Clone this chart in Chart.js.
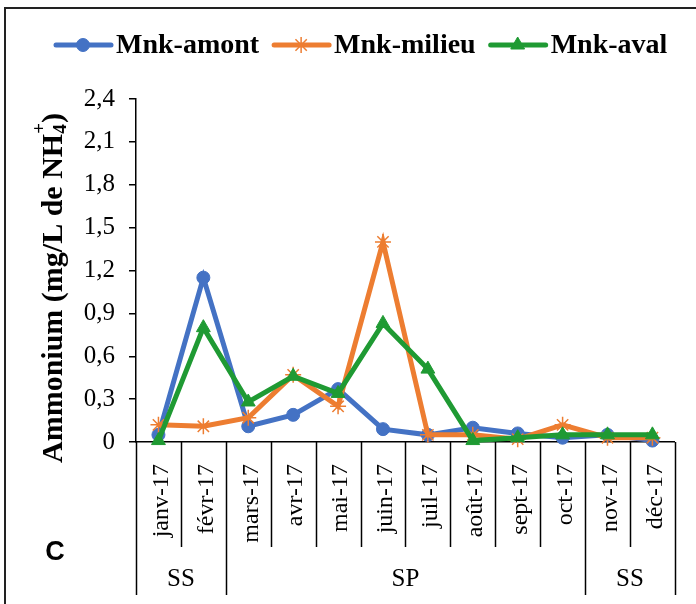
<!DOCTYPE html>
<html>
<head>
<meta charset="utf-8">
<script src="https://cdn.jsdelivr.net/npm/chart.js@4/dist/chart.umd.min.js"></script>
<style>
  html, body { margin: 0; padding: 0; background: #fff; }
  #wrap { width: 696px; height: 604px; position: relative; }
  canvas { display: block; }
</style>
</head>
<body>
<div id="wrap"><canvas id="c" width="696" height="604"></canvas></div>
<script>
// Monthly ammonium concentrations (mg/L NH4+) at three stations, 2017
const months = ['janv-17', 'févr-17', 'mars-17', 'avr-17', 'mai-17', 'juin-17',
                'juil-17', 'août-17', 'sept-17', 'oct-17', 'nov-17', 'déc-17'];
const mnkAmont  = [0.05, 1.15, 0.11, 0.19, 0.37, 0.09, 0.05, 0.10, 0.06, 0.03, 0.05, 0.01];
const mnkMilieu = [0.12, 0.11, 0.17, 0.47, 0.25, 1.40, 0.05, 0.05, 0.02, 0.12, 0.03, 0.03];
const mnkAval   = [0.01, 0.80, 0.28, 0.46, 0.34, 0.83, 0.51, 0.01, 0.03, 0.05, 0.05, 0.05];
const yTicks = [0, 0.3, 0.6, 0.9, 1.2, 1.5, 1.8, 2.1, 2.4];
// Season groups: [label, first month index, last month index]
const seasons = [['SS', 0, 1], ['SP', 2, 9], ['SS', 10, 11]];
const panelLetter = 'C';

const SERIF = '"Liberation Serif", "Times New Roman", serif';
const BLUE = '#4472C4', ORANGE = '#ED7D31', GREEN = '#1F9A33';

// Outer frame, panel letter, y title, month dividers, season row and legend
const decorations = {
  id: 'decorations',
  afterDraw(chart) {
    const ctx = chart.ctx;
    const x = chart.scales.x;
    const area = chart.chartArea;
    ctx.save();

    // frame
    ctx.strokeStyle = '#222';
    ctx.lineWidth = 2;
    ctx.strokeRect(5, 8, 720, 640);

    // dividers below the axis
    ctx.strokeStyle = '#000';
    ctx.lineWidth = 1.5;
    const groupEdges = new Set();
    seasons.forEach(s => { groupEdges.add(s[1]); groupEdges.add(s[2] + 1); });
    for (let i = 0; i <= months.length; i++) {
      const px = Math.round(x.getPixelForValue(i - 0.5)) + 0.5;
      const bottom = groupEdges.has(i) ? 595 : 547;
      ctx.beginPath();
      ctx.moveTo(px, area.bottom);
      ctx.lineTo(px, bottom);
      ctx.stroke();
    }

    // season labels
    ctx.fillStyle = '#000';
    ctx.font = '25px ' + SERIF;
    ctx.textAlign = 'center';
    ctx.textBaseline = 'middle';
    seasons.forEach(([lab, a, b]) => {
      const cx = (x.getPixelForValue(a - 0.5) + x.getPixelForValue(b + 0.5)) / 2;
      ctx.fillText(lab, cx, 579);
    });

    // panel letter
    ctx.font = 'bold 27px "Liberation Sans", Arial, sans-serif';
    ctx.fillText(panelLetter, 55, 553);

    // y-axis title with subscript / superscript
    const big = 'bold 30px ' + SERIF, small = 'bold 19px ' + SERIF;
    const parts = [
      ['Ammonium (mg/L de NH', big, 0],
      ['4', small, 4],
      ['+', small, -17],
      [')', big, 0]
    ];
    ctx.font = small;
    const overlap = ctx.measureText('4').width;
    let total = -overlap;
    parts.forEach(p => { ctx.font = p[1]; total += ctx.measureText(p[0]).width; });
    ctx.translate(62, 113 + total);
    ctx.rotate(-Math.PI / 2);
    ctx.textAlign = 'left';
    ctx.textBaseline = 'alphabetic';
    let cursor = 0;
    parts.forEach((p, i) => {
      ctx.font = p[1];
      if (i === 2) cursor -= overlap;   // "+" sits above the "4"
      ctx.fillText(p[0], cursor, p[2]);
      cursor += ctx.measureText(p[0]).width;
    });
    ctx.restore();

    // legend: line segment with marker, then bold label
    ctx.save();
    ctx.font = 'bold 28px ' + SERIF;
    ctx.textAlign = 'left';
    ctx.textBaseline = 'middle';
    let lx = 56;
    const ly = 45;
    chart.data.datasets.forEach(ds => {
      ctx.strokeStyle = ds.borderColor;
      ctx.lineWidth = 5;
      ctx.lineCap = 'round';
      ctx.beginPath();
      ctx.moveTo(lx, ly);
      ctx.lineTo(lx + 55, ly);
      ctx.stroke();
      ctx.lineCap = 'butt';
      ctx.fillStyle = ds.pointBackgroundColor;
      ctx.strokeStyle = ds.pointBorderColor;
      ctx.lineWidth = ds.pointBorderWidth;
      Chart.helpers.drawPoint(ctx, {
        pointStyle: ds.pointStyle,
        radius: ds.pointRadius,
        borderWidth: ds.pointBorderWidth,
        rotation: 0
      }, lx + 27, ly);
      ctx.fillStyle = '#000';
      ctx.fillText(ds.label, lx + 60, ly + 1);
      lx += 60 + ctx.measureText(ds.label).width + 15;
    });
    ctx.restore();
  }
};

const chart = new Chart(document.getElementById('c'), {
  type: 'line',
  data: {
    labels: months,
    datasets: [
      {
        label: 'Mnk-amont', data: mnkAmont, order: 3,
        borderColor: BLUE, backgroundColor: BLUE,
        pointBackgroundColor: BLUE, pointBorderColor: BLUE,
        pointStyle: 'circle', pointRadius: 6.5, pointBorderWidth: 1,
        borderWidth: 5, tension: 0, clip: false
      },
      {
        label: 'Mnk-milieu', data: mnkMilieu, order: 2,
        borderColor: ORANGE, backgroundColor: ORANGE,
        pointBackgroundColor: ORANGE, pointBorderColor: ORANGE,
        pointStyle: 'star', pointRadius: 8, pointBorderWidth: 1.5,
        borderWidth: 5, tension: 0, clip: false
      },
      {
        label: 'Mnk-aval', data: mnkAval, order: 1,
        borderColor: GREEN, backgroundColor: GREEN,
        pointBackgroundColor: GREEN, pointBorderColor: GREEN,
        pointStyle: 'triangle', pointRadius: 8, pointBorderWidth: 1,
        borderWidth: 5, tension: 0, clip: false
      }
    ]
  },
  options: {
    responsive: false,
    animation: false,
    events: [],
    layout: { padding: { top: 99, right: 19, left: 0, bottom: 0 } },
    plugins: { legend: { display: false }, tooltip: { enabled: false } },
    scales: {
      x: {
        type: 'category',
        offset: true,
        grid: { display: false },
        border: { display: true, color: '#000', width: 1.5 },
        ticks: {
          autoSkip: false, minRotation: 90, maxRotation: 90,
          padding: 14, labelOffset: 3,
          color: '#000', font: { family: SERIF, size: 24 }
        },
        afterFit(scale) { scale.height = 162; }
      },
      y: {
        min: 0, max: 2.4,
        afterBuildTicks(scale) { scale.ticks = yTicks.map(v => ({ value: v })); },
        grid: { drawOnChartArea: false, drawTicks: true, tickLength: 7, color: '#000', lineWidth: 1.5 },
        border: { display: true, color: '#000', width: 1.5 },
        ticks: {
          padding: 14, color: '#000', font: { family: SERIF, size: 25 },
          callback: v => v === 0 ? '0' : v.toFixed(1).replace('.', ',')
        },
        afterFit(scale) { scale.width = 136; }
      }
    }
  },
  plugins: [decorations]
});
</script>
</body>
</html>
